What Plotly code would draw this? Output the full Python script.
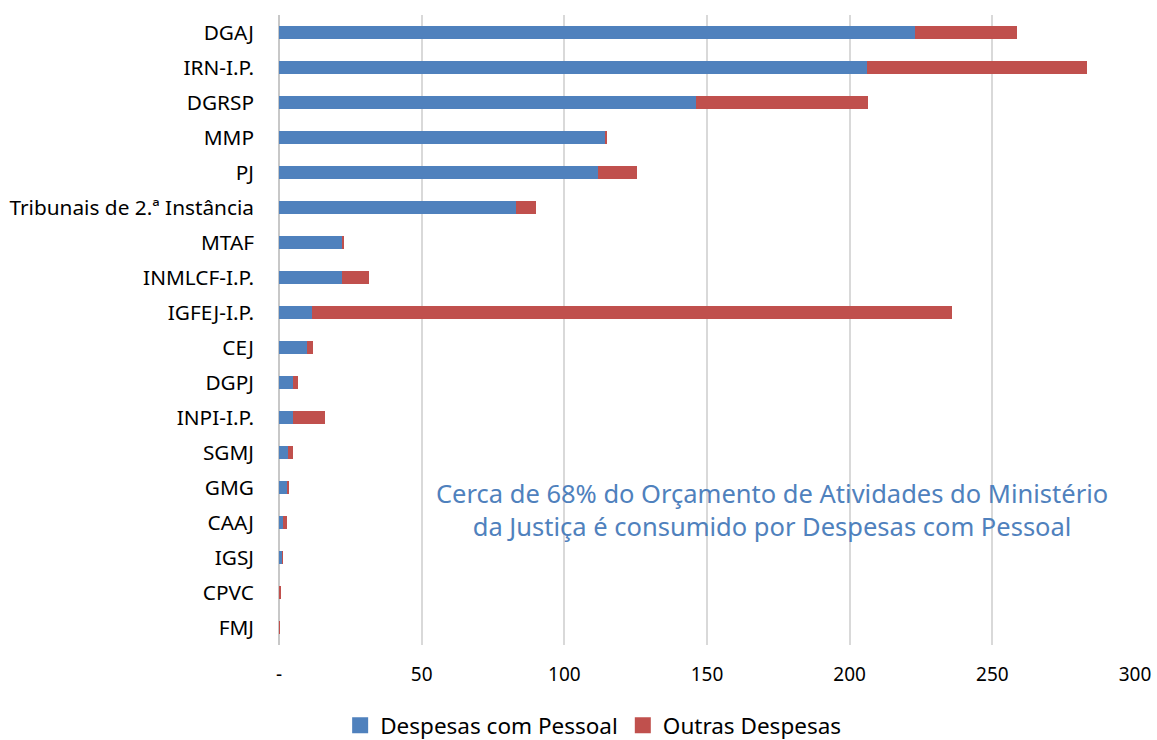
import plotly.graph_objects as go

categories = ["DGAJ", "IRN-I.P.", "DGRSP", "MMP", "PJ", "Tribunais de 2.ª Instância",
              "MTAF", "INMLCF-I.P.", "IGFEJ-I.P.", "CEJ", "DGPJ", "INPI-I.P.",
              "SGMJ", "GMG", "CAAJ", "IGSJ", "CPVC", "FMJ"]
pessoal = [222.9, 206.1, 146.2, 114.6, 111.8, 83.1, 22.4, 22.1, 11.6, 9.9, 5.0, 5.0,
           3.3, 2.9, 1.5, 1.2, 0.1, 0.1]
outras = [35.8, 77.1, 60.2, 0.3, 13.7, 7.0, 0.4, 9.4, 224.3, 1.9, 1.7, 11.0,
          1.5, 0.6, 1.2, 0.2, 0.7, 0.1]
tick_vals = [0, 50, 100, 150, 200, 250, 300]
tick_text = ["-", "50", "100", "150", "200", "250", "300"]
series_names = ["Despesas com Pessoal", "Outras Despesas"]
series_colors = ["#4F81BD", "#C0504D"]

font = "Noto Sans, Open Sans, sans-serif"

fig = go.Figure()
for name, vals, col in zip(series_names, [pessoal, outras], series_colors):
    fig.add_trace(go.Bar(y=categories, x=vals, orientation="h", name=name,
                         marker=dict(color=col, line=dict(width=0)), width=0.37,
                         showlegend=False))
# legend entries with square markers
for name, col in zip(series_names, series_colors):
    fig.add_trace(go.Scatter(x=[None], y=[None], mode="markers", name=name,
                             marker=dict(symbol="square", size=16, color=col)))

L, R, T, B = 279, 22, 15, 95
W, H = 1157, 740
fig.update_layout(
    barmode="stack",
    width=W, height=H,
    paper_bgcolor="white", plot_bgcolor="white",
    margin=dict(l=L, r=R, t=T, b=B, autoexpand=False),
    font=dict(family=font, size=19, color="black"),
    bargap=0.63,
    xaxis=dict(range=[0, 300], tickvals=tick_vals, ticktext=tick_text,
               showgrid=True, gridcolor="#D9D9D9", gridwidth=1.5,
               zeroline=True, zerolinecolor="#C8C8C8", zerolinewidth=2,
               showline=False, ticks="", tickfont=dict(size=19), ticklabelstandoff=16),
    yaxis=dict(autorange="reversed", showgrid=False, ticks="", showline=False,
               tickfont=dict(size=20.8), ticklabelstandoff=24),
    legend=dict(orientation="h", x=0.367, xanchor="center", y=-0.094, yanchor="top",
                font=dict(size=22.5), itemwidth=30, traceorder="normal"),
)
pw = W - L - R
ph = H - T - B
fig.add_annotation(text="Cerca de 68% do Orçamento de Atividades do Ministério<br>da Justiça é consumido por Despesas com Pessoal",
                   x=(772 - L) / pw, y=1 - (509 - T) / ph, xref="paper", yref="paper",
                   xanchor="center", yanchor="middle",
                   showarrow=False, font=dict(size=25.5, color="#4F81BD", family=font),
                   align="center")

fig.write_html("out.html", config={"displayModeBar": False},
               post_script="document.body.style.margin='0';document.body.style.padding='0';")
